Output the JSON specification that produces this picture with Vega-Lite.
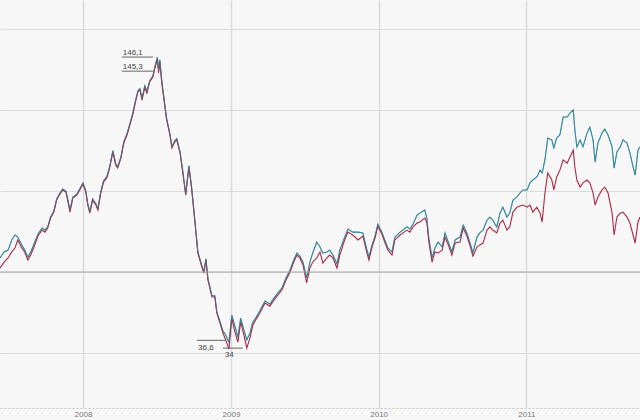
{
  "$schema": "https://vega.github.io/schema/vega-lite/v6.json",
  "width": 640,
  "height": 408,
  "padding": {"left": 0, "top": 0, "right": 0, "bottom": 12},
  "autosize": "none",
  "background": "#f7f7f7",
  "config": {
    "view": {"stroke": null},
    "font": "Liberation Sans",
    "axisX": {
      "format": "%Y", "ticks": false, "domain": true, "domainColor": "#c4c4c4", "domainDash": [2, 2], "domainWidth": 1,
      "grid": true, "gridColor": "#dadada", "gridWidth": 1.5,
      "labelFontSize": 8, "labelColor": "#777777", "labelPadding": 2, "labelFlush": false, "labelOverlap": false, "title": null
    },
    "axisY": {
      "labels": false, "ticks": false, "domain": false,
      "grid": true, "gridColor": "#dcdcdc", "gridWidth": 1.2, "title": null
    }
  },
  "datasets": {
    "prices": [
      {"date": "2007-06-10", "wti": 65.1, "brent": 69.0},
      {"date": "2007-06-20", "wti": 67.4, "brent": 71.3},
      {"date": "2007-06-30", "wti": 69.0, "brent": 72.0},
      {"date": "2007-07-09", "wti": 71.3, "brent": 75.9},
      {"date": "2007-07-17", "wti": 72.8, "brent": 77.8},
      {"date": "2007-07-24", "wti": 75.9, "brent": 77.0},
      {"date": "2007-08-03", "wti": 72.8, "brent": 74.0},
      {"date": "2007-08-10", "wti": 71.3, "brent": 72.0},
      {"date": "2007-08-18", "wti": 68.2, "brent": 69.3},
      {"date": "2007-08-25", "wti": 70.1, "brent": 71.3},
      {"date": "2007-09-01", "wti": 72.8, "brent": 74.0},
      {"date": "2007-09-12", "wti": 77.4, "brent": 78.2},
      {"date": "2007-09-22", "wti": 79.7, "brent": 80.5},
      {"date": "2007-09-29", "wti": 78.9, "brent": 79.7},
      {"date": "2007-10-06", "wti": 80.5, "brent": 80.9},
      {"date": "2007-10-13", "wti": 84.3, "brent": 84.7},
      {"date": "2007-10-21", "wti": 86.6, "brent": 87.0},
      {"date": "2007-10-28", "wti": 91.2, "brent": 91.6},
      {"date": "2007-11-05", "wti": 93.5, "brent": 93.9},
      {"date": "2007-11-12", "wti": 95.1, "brent": 95.5},
      {"date": "2007-11-20", "wti": 94.3, "brent": 94.7},
      {"date": "2007-11-25", "wti": 90.5, "brent": 91.2},
      {"date": "2007-11-30", "wti": 86.6, "brent": 87.4},
      {"date": "2007-12-07", "wti": 92.0, "brent": 92.4},
      {"date": "2007-12-17", "wti": 93.1, "brent": 93.5},
      {"date": "2007-12-24", "wti": 95.1, "brent": 95.5},
      {"date": "2008-01-01", "wti": 97.4, "brent": 97.8},
      {"date": "2008-01-08", "wti": 94.3, "brent": 94.8},
      {"date": "2008-01-13", "wti": 89.3, "brent": 89.8},
      {"date": "2008-01-18", "wti": 86.2, "brent": 86.7},
      {"date": "2008-01-25", "wti": 91.2, "brent": 91.7},
      {"date": "2008-02-02", "wti": 89.3, "brent": 89.8},
      {"date": "2008-02-07", "wti": 87.4, "brent": 87.9},
      {"date": "2008-02-14", "wti": 93.9, "brent": 94.4},
      {"date": "2008-02-21", "wti": 98.1, "brent": 98.6},
      {"date": "2008-02-29", "wti": 99.7, "brent": 100.2},
      {"date": "2008-03-07", "wti": 103.5, "brent": 104.0},
      {"date": "2008-03-15", "wti": 109.7, "brent": 110.2},
      {"date": "2008-03-22", "wti": 104.7, "brent": 105.2},
      {"date": "2008-03-27", "wti": 103.5, "brent": 104.0},
      {"date": "2008-04-04", "wti": 107.3, "brent": 107.8},
      {"date": "2008-04-11", "wti": 113.1, "brent": 113.6},
      {"date": "2008-04-19", "wti": 116.2, "brent": 116.7},
      {"date": "2008-04-26", "wti": 120.0, "brent": 120.5},
      {"date": "2008-05-03", "wti": 123.9, "brent": 124.4},
      {"date": "2008-05-11", "wti": 129.6, "brent": 130.1},
      {"date": "2008-05-16", "wti": 132.7, "brent": 133.2},
      {"date": "2008-05-21", "wti": 133.5, "brent": 134.0},
      {"date": "2008-05-26", "wti": 129.6, "brent": 130.1},
      {"date": "2008-06-02", "wti": 134.6, "brent": 135.1},
      {"date": "2008-06-07", "wti": 132.3, "brent": 132.8},
      {"date": "2008-06-14", "wti": 136.5, "brent": 137.0},
      {"date": "2008-06-22", "wti": 138.4, "brent": 138.9},
      {"date": "2008-06-27", "wti": 141.9, "brent": 142.4},
      {"date": "2008-07-03", "wti": 145.3, "brent": 146.1},
      {"date": "2008-07-06", "wti": 140.0, "brent": 141.0},
      {"date": "2008-07-09", "wti": 144.2, "brent": 145.0},
      {"date": "2008-07-14", "wti": 136.1, "brent": 136.8},
      {"date": "2008-07-21", "wti": 127.7, "brent": 128.2},
      {"date": "2008-07-26", "wti": 121.9, "brent": 122.4},
      {"date": "2008-08-03", "wti": 116.2, "brent": 116.7},
      {"date": "2008-08-08", "wti": 111.2, "brent": 111.7},
      {"date": "2008-08-15", "wti": 113.5, "brent": 114.0},
      {"date": "2008-08-20", "wti": 114.3, "brent": 114.8},
      {"date": "2008-08-28", "wti": 109.3, "brent": 109.8},
      {"date": "2008-09-04", "wti": 101.6, "brent": 102.1},
      {"date": "2008-09-11", "wti": 93.1, "brent": 93.6},
      {"date": "2008-09-19", "wti": 103.9, "brent": 104.4},
      {"date": "2008-09-26", "wti": 95.1, "brent": 95.6},
      {"date": "2008-10-04", "wti": 82.4, "brent": 82.9},
      {"date": "2008-10-11", "wti": 70.9, "brent": 71.4},
      {"date": "2008-10-21", "wti": 65.5, "brent": 66.0},
      {"date": "2008-10-26", "wti": 63.2, "brent": 63.7},
      {"date": "2008-10-31", "wti": 68.2, "brent": 68.7},
      {"date": "2008-11-05", "wti": 60.5, "brent": 61.0},
      {"date": "2008-11-15", "wti": 54.0, "brent": 54.5},
      {"date": "2008-11-22", "wti": 54.0, "brent": 54.5},
      {"date": "2008-11-27", "wti": 47.8, "brent": 48.3},
      {"date": "2008-12-04", "wti": 44.4, "brent": 44.9},
      {"date": "2008-12-12", "wti": 40.2, "brent": 41.0},
      {"date": "2008-12-19", "wti": 37.5, "brent": 39.4},
      {"date": "2008-12-27", "wti": 34.0, "brent": 36.6},
      {"date": "2009-01-03", "wti": 45.9, "brent": 47.0},
      {"date": "2009-01-10", "wti": 41.0, "brent": 43.2},
      {"date": "2009-01-18", "wti": 36.7, "brent": 38.6},
      {"date": "2009-01-25", "wti": 44.4, "brent": 45.9},
      {"date": "2009-02-02", "wti": 39.4, "brent": 41.3},
      {"date": "2009-02-09", "wti": 34.4, "brent": 37.5},
      {"date": "2009-02-17", "wti": 38.3, "brent": 40.2},
      {"date": "2009-02-24", "wti": 43.2, "brent": 44.4},
      {"date": "2009-03-03", "wti": 45.2, "brent": 45.9},
      {"date": "2009-03-13", "wti": 47.8, "brent": 48.6},
      {"date": "2009-03-26", "wti": 51.7, "brent": 52.5},
      {"date": "2009-04-07", "wti": 50.5, "brent": 51.3},
      {"date": "2009-04-17", "wti": 52.8, "brent": 53.6},
      {"date": "2009-04-27", "wti": 54.8, "brent": 55.6},
      {"date": "2009-05-07", "wti": 56.7, "brent": 57.5},
      {"date": "2009-05-17", "wti": 60.5, "brent": 61.3},
      {"date": "2009-05-27", "wti": 63.6, "brent": 64.4},
      {"date": "2009-06-05", "wti": 67.4, "brent": 68.2},
      {"date": "2009-06-13", "wti": 70.1, "brent": 70.9},
      {"date": "2009-06-20", "wti": 69.0, "brent": 69.8},
      {"date": "2009-06-28", "wti": 66.3, "brent": 67.4},
      {"date": "2009-07-07", "wti": 59.4, "brent": 61.3},
      {"date": "2009-07-15", "wti": 65.1, "brent": 67.4},
      {"date": "2009-07-22", "wti": 67.4, "brent": 70.9},
      {"date": "2009-08-01", "wti": 69.0, "brent": 75.1},
      {"date": "2009-08-09", "wti": 71.3, "brent": 73.2},
      {"date": "2009-08-16", "wti": 67.0, "brent": 70.9},
      {"date": "2009-08-26", "wti": 69.0, "brent": 71.3},
      {"date": "2009-09-02", "wti": 70.1, "brent": 72.0},
      {"date": "2009-09-10", "wti": 69.0, "brent": 70.1},
      {"date": "2009-09-20", "wti": 65.1, "brent": 66.7},
      {"date": "2009-09-27", "wti": 70.1, "brent": 72.0},
      {"date": "2009-10-09", "wti": 75.9, "brent": 77.0},
      {"date": "2009-10-17", "wti": 78.9, "brent": 80.1},
      {"date": "2009-10-29", "wti": 77.8, "brent": 78.9},
      {"date": "2009-11-11", "wti": 75.9, "brent": 78.9},
      {"date": "2009-11-23", "wti": 77.4, "brent": 78.6},
      {"date": "2009-12-03", "wti": 70.9, "brent": 72.0},
      {"date": "2009-12-08", "wti": 68.2, "brent": 69.3},
      {"date": "2009-12-15", "wti": 72.8, "brent": 73.6},
      {"date": "2009-12-23", "wti": 76.6, "brent": 77.4},
      {"date": "2009-12-30", "wti": 81.2, "brent": 82.0},
      {"date": "2010-01-09", "wti": 78.2, "brent": 78.9},
      {"date": "2010-01-16", "wti": 75.1, "brent": 75.9},
      {"date": "2010-01-24", "wti": 72.0, "brent": 72.8},
      {"date": "2010-02-03", "wti": 70.1, "brent": 71.3},
      {"date": "2010-02-10", "wti": 75.9, "brent": 77.0},
      {"date": "2010-02-23", "wti": 77.8, "brent": 78.9},
      {"date": "2010-03-02", "wti": 78.6, "brent": 79.7},
      {"date": "2010-03-12", "wti": 79.7, "brent": 80.9},
      {"date": "2010-03-19", "wti": 78.9, "brent": 80.1},
      {"date": "2010-03-27", "wti": 80.9, "brent": 82.0},
      {"date": "2010-04-06", "wti": 82.4, "brent": 85.5},
      {"date": "2010-04-13", "wti": 82.8, "brent": 86.2},
      {"date": "2010-04-25", "wti": 84.3, "brent": 87.4},
      {"date": "2010-04-30", "wti": 82.8, "brent": 84.3},
      {"date": "2010-05-05", "wti": 75.1, "brent": 76.6},
      {"date": "2010-05-13", "wti": 67.4, "brent": 69.0},
      {"date": "2010-05-20", "wti": 71.3, "brent": 72.8},
      {"date": "2010-05-28", "wti": 70.9, "brent": 75.1},
      {"date": "2010-06-07", "wti": 72.0, "brent": 73.2},
      {"date": "2010-06-14", "wti": 77.0, "brent": 78.6},
      {"date": "2010-06-22", "wti": 74.0, "brent": 75.1},
      {"date": "2010-07-01", "wti": 70.1, "brent": 71.3},
      {"date": "2010-07-09", "wti": 74.7, "brent": 75.9},
      {"date": "2010-07-21", "wti": 75.1, "brent": 77.0},
      {"date": "2010-07-29", "wti": 80.5, "brent": 81.6},
      {"date": "2010-08-07", "wti": 77.4, "brent": 78.6},
      {"date": "2010-08-15", "wti": 73.6, "brent": 74.7},
      {"date": "2010-08-22", "wti": 69.7, "brent": 70.9},
      {"date": "2010-09-01", "wti": 73.2, "brent": 77.0},
      {"date": "2010-09-08", "wti": 74.0, "brent": 78.6},
      {"date": "2010-09-16", "wti": 74.7, "brent": 79.7},
      {"date": "2010-09-26", "wti": 79.7, "brent": 83.5},
      {"date": "2010-10-03", "wti": 80.9, "brent": 84.7},
      {"date": "2010-10-10", "wti": 79.7, "brent": 83.5},
      {"date": "2010-10-20", "wti": 78.6, "brent": 80.9},
      {"date": "2010-10-28", "wti": 82.4, "brent": 86.2},
      {"date": "2010-11-04", "wti": 83.5, "brent": 88.5},
      {"date": "2010-11-14", "wti": 79.7, "brent": 84.7},
      {"date": "2010-11-21", "wti": 80.9, "brent": 86.2},
      {"date": "2010-11-29", "wti": 86.6, "brent": 91.2},
      {"date": "2010-12-09", "wti": 88.5, "brent": 92.4},
      {"date": "2010-12-16", "wti": 88.9, "brent": 93.9},
      {"date": "2010-12-24", "wti": 89.3, "brent": 95.1},
      {"date": "2011-01-03", "wti": 88.5, "brent": 95.1},
      {"date": "2011-01-10", "wti": 89.3, "brent": 97.8},
      {"date": "2011-01-17", "wti": 86.6, "brent": 98.9},
      {"date": "2011-01-27", "wti": 88.5, "brent": 100.1},
      {"date": "2011-02-04", "wti": 86.2, "brent": 102.7},
      {"date": "2011-02-09", "wti": 82.8, "brent": 101.6},
      {"date": "2011-02-16", "wti": 93.9, "brent": 106.6},
      {"date": "2011-02-23", "wti": 101.6, "brent": 115.0},
      {"date": "2011-03-05", "wti": 98.9, "brent": 114.3},
      {"date": "2011-03-10", "wti": 95.1, "brent": 111.2},
      {"date": "2011-03-17", "wti": 100.1, "brent": 115.0},
      {"date": "2011-03-25", "wti": 102.7, "brent": 116.2},
      {"date": "2011-04-02", "wti": 106.6, "brent": 123.1},
      {"date": "2011-04-12", "wti": 105.4, "brent": 123.1},
      {"date": "2011-04-19", "wti": 107.7, "brent": 124.6},
      {"date": "2011-04-27", "wti": 110.4, "brent": 125.8},
      {"date": "2011-05-01", "wti": 103.9, "brent": 118.1},
      {"date": "2011-05-06", "wti": 98.9, "brent": 111.6},
      {"date": "2011-05-14", "wti": 96.2, "brent": 114.3},
      {"date": "2011-05-21", "wti": 97.8, "brent": 111.6},
      {"date": "2011-05-31", "wti": 98.9, "brent": 116.9},
      {"date": "2011-06-07", "wti": 97.8, "brent": 119.2},
      {"date": "2011-06-15", "wti": 93.9, "brent": 114.3},
      {"date": "2011-06-20", "wti": 89.3, "brent": 105.8},
      {"date": "2011-06-27", "wti": 92.4, "brent": 113.1},
      {"date": "2011-07-07", "wti": 95.1, "brent": 116.9},
      {"date": "2011-07-14", "wti": 96.2, "brent": 118.5},
      {"date": "2011-07-22", "wti": 93.9, "brent": 116.2},
      {"date": "2011-08-01", "wti": 86.2, "brent": 111.6},
      {"date": "2011-08-06", "wti": 77.8, "brent": 103.5},
      {"date": "2011-08-13", "wti": 84.7, "brent": 109.7},
      {"date": "2011-08-21", "wti": 86.2, "brent": 111.6},
      {"date": "2011-08-28", "wti": 86.6, "brent": 114.3},
      {"date": "2011-09-07", "wti": 84.7, "brent": 113.1},
      {"date": "2011-09-14", "wti": 82.4, "brent": 109.3},
      {"date": "2011-09-22", "wti": 77.8, "brent": 103.9},
      {"date": "2011-09-27", "wti": 74.7, "brent": 100.8},
      {"date": "2011-10-04", "wti": 82.8, "brent": 110.4},
      {"date": "2011-10-09", "wti": 84.7, "brent": 111.6}
    ]
  },
  "layer": [
    {
      "data": {"name": "prices"},
      "mark": {"type": "line", "color": "#34899b", "strokeWidth": 1.1},
      "encoding": {
        "x": {
          "field": "date", "type": "temporal", "title": null,
          "scale": {"domain": [{"year": 2007, "month": 6, "date": 10}, {"year": 2011, "month": 10, "date": 9}], "nice": false},
          "axis": {
            "values": [{"year": 2008, "month": 1, "date": 1}, {"year": 2009, "month": 1, "date": 1}, {"year": 2010, "month": 1, "date": 1}, {"year": 2011, "month": 1, "date": 1}]
          }
        },
        "y": {
          "field": "brent", "type": "quantitative", "title": null,
          "scale": {"domain": [11.4, 168], "nice": false, "zero": false},
          "axis": {"values": [32.5, 63.6, 94.7, 125.8, 156.9]}
        }
      }
    },
    {
      "data": {"name": "prices"},
      "mark": {"type": "line", "color": "#a92a45", "strokeWidth": 1.1},
      "encoding": {
        "x": {"field": "date", "type": "temporal", "title": null},
        "y": {"field": "wti", "type": "quantitative", "title": null}
      }
    },
    {
      "data": {"name": "prices"},
      "mark": {"type": "line", "color": "#34899b", "strokeWidth": 1, "opacity": 0.5},
      "encoding": {
        "x": {"field": "date", "type": "temporal", "title": null},
        "y": {"field": "brent", "type": "quantitative", "title": null}
      }
    },
    {
      "data": {"values": [{"level": 63.6}]},
      "mark": {"type": "rule", "color": "#a6a6a6", "strokeWidth": 1},
      "encoding": {"y": {"field": "level", "type": "quantitative", "title": null}}
    },
    {
      "data": {"values": [{"label": "146,1", "start": "2008-04-06", "end": "2008-06-22", "price": 146.1}]},
      "layer": [
        {"mark": {"type": "rule", "color": "#666666", "strokeWidth": 1},
         "encoding": {"x": {"field": "start", "type": "temporal", "title": null}, "x2": {"field": "end"}, "y": {"field": "price", "type": "quantitative", "title": null}}},
        {"mark": {"type": "text", "align": "left", "baseline": "alphabetic", "dx": 1, "dy": -2, "fontSize": 8, "color": "#444444"},
         "encoding": {"x": {"field": "start", "type": "temporal", "title": null}, "y": {"field": "price", "type": "quantitative", "title": null}, "text": {"field": "label"}}}
      ]
    },
    {
      "data": {"values": [{"label": "145,3", "start": "2008-04-06", "end": "2008-06-22", "price": 145.3}]},
      "layer": [
        {"mark": {"type": "rule", "color": "#666666", "strokeWidth": 1, "yOffset": 12},
         "encoding": {"x": {"field": "start", "type": "temporal", "title": null}, "x2": {"field": "end"}, "y": {"field": "price", "type": "quantitative", "title": null}}},
        {"mark": {"type": "text", "align": "left", "baseline": "alphabetic", "dx": 1, "dy": -2, "yOffset": 12, "fontSize": 8, "color": "#444444"},
         "encoding": {"x": {"field": "start", "type": "temporal", "title": null}, "y": {"field": "price", "type": "quantitative", "title": null}, "text": {"field": "label"}}}
      ]
    },
    {
      "data": {"values": [{"label": "36,6", "start": "2008-10-09", "end": "2008-12-19", "price": 36.6}]},
      "layer": [
        {"mark": {"type": "rule", "color": "#666666", "strokeWidth": 1, "yOffset": -2},
         "encoding": {"x": {"field": "start", "type": "temporal", "title": null}, "x2": {"field": "end"}, "y": {"field": "price", "type": "quantitative", "title": null}}},
        {"mark": {"type": "text", "align": "left", "baseline": "top", "dx": 1, "dy": 2, "fontSize": 8, "color": "#444444"},
         "encoding": {"x": {"field": "start", "type": "temporal", "title": null}, "y": {"field": "price", "type": "quantitative", "title": null}, "text": {"field": "label"}}}
      ]
    },
    {
      "data": {"values": [{"label": "34", "start": "2008-12-12", "end": "2009-01-30", "price": 34}]},
      "layer": [
        {"mark": {"type": "rule", "color": "#666666", "strokeWidth": 1, "yOffset": -1},
         "encoding": {"x": {"field": "start", "type": "temporal", "title": null}, "x2": {"field": "end"}, "y": {"field": "price", "type": "quantitative", "title": null}}},
        {"mark": {"type": "text", "align": "left", "baseline": "top", "dx": 2, "dy": 2, "fontSize": 8, "color": "#444444"},
         "encoding": {"x": {"field": "start", "type": "temporal", "title": null}, "y": {"field": "price", "type": "quantitative", "title": null}, "text": {"field": "label"}}}
      ]
    }
  ]
}
